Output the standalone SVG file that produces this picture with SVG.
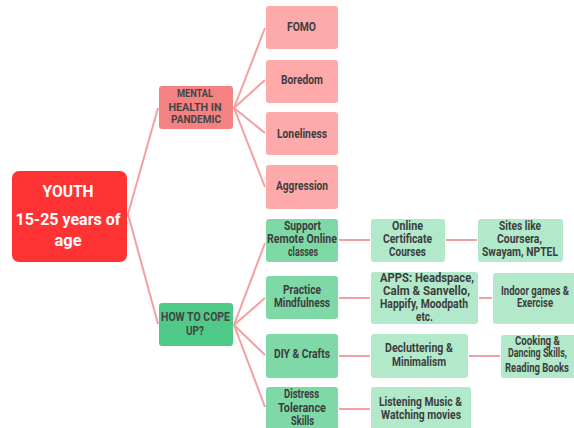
<svg xmlns="http://www.w3.org/2000/svg" width="574" height="428" viewBox="0 0 574 428">
<style>
.t{font-family:"Roboto","Liberation Sans",sans-serif;font-size:12px;fill:#3d3d3d;text-anchor:middle;font-weight:bold}
.y{font-family:"Roboto","Liberation Sans",sans-serif;font-size:17px;fill:#fff;text-anchor:middle;font-weight:bold}
.m{font-family:"Roboto","Liberation Sans",sans-serif;font-size:11.5px;fill:#444;text-anchor:middle;font-weight:bold}
.c{stroke:#f4a0a0;stroke-width:2;fill:none}
.p{fill:#ffaaaa}
.g2{fill:#7fd9a7}
.g3{fill:#b2e9ca}
</style>
<rect width="574" height="428" fill="#fff"/>
<g id="connectors">
<line class="c" x1="128" y1="214" x2="158" y2="108"/>
<line class="c" x1="128" y1="214" x2="158" y2="324"/>
<line class="c" x1="234" y1="108" x2="265" y2="28"/>
<line class="c" x1="234" y1="108" x2="265" y2="80"/>
<line class="c" x1="234" y1="108" x2="265" y2="133"/>
<line class="c" x1="234" y1="108" x2="265" y2="187"/>
<line class="c" x1="234" y1="325" x2="265" y2="243"/>
<line class="c" x1="234" y1="325" x2="265" y2="298"/>
<line class="c" x1="234" y1="325" x2="265" y2="355"/>
<line class="c" x1="234" y1="325" x2="265" y2="407"/>
<line class="c" x1="339" y1="240" x2="370" y2="240"/>
<line class="c" x1="446" y1="240" x2="477" y2="240"/>
<line class="c" x1="339" y1="298" x2="370" y2="298"/>
<line class="c" x1="479" y1="298" x2="492" y2="298"/>
<line class="c" x1="339" y1="356" x2="370" y2="356"/>
<line class="c" x1="469" y1="356" x2="500" y2="356"/>
<line class="c" x1="339" y1="409" x2="370" y2="409"/>
</g>
<g id="youth"><rect x="12" y="171" width="115" height="91" rx="7" fill="#ff3333"/>
<text class="y" x="68" y="197" textLength="51" lengthAdjust="spacingAndGlyphs">YOUTH</text>
<text class="y" x="68" y="225" textLength="105" lengthAdjust="spacingAndGlyphs">15-25 years of</text>
<text class="y" x="68" y="246" textLength="27" lengthAdjust="spacingAndGlyphs">age</text></g>
<g id="mental"><rect x="159" y="86" width="74" height="43" rx="3" fill="#f58282"/>
<text class="m" x="195" y="97" textLength="36" lengthAdjust="spacingAndGlyphs">MENTAL</text>
<text class="m" x="195" y="111" textLength="53" lengthAdjust="spacingAndGlyphs">HEALTH IN</text>
<text class="m" x="196" y="123" textLength="50" lengthAdjust="spacingAndGlyphs">PANDEMIC</text></g>
<g id="fomo"><rect class="p" x="266" y="6" width="72" height="43" rx="3"/><text class="t" x="301.5" y="31" textLength="29" lengthAdjust="spacingAndGlyphs">FOMO</text></g>
<g id="boredom"><rect class="p" x="266" y="60" width="72" height="43" rx="3"/><text class="t" x="302" y="84" textLength="42" lengthAdjust="spacingAndGlyphs">Boredom</text></g>
<g id="loneliness"><rect class="p" x="266" y="112" width="72" height="43" rx="3"/><text class="t" x="302" y="138" textLength="50" lengthAdjust="spacingAndGlyphs">Loneliness</text></g>
<g id="aggression"><rect class="p" x="266" y="165" width="72" height="44" rx="3"/><text class="t" x="302" y="190" textLength="52" lengthAdjust="spacingAndGlyphs">Aggression</text></g>
<g id="cope"><rect x="159" y="303" width="74" height="43" rx="3" fill="#4ec987"/>
<text class="m" x="195.5" y="321" textLength="69" lengthAdjust="spacingAndGlyphs" style="font-size:12px">HOW TO COPE</text>
<text class="m" x="195" y="335" textLength="18" lengthAdjust="spacingAndGlyphs" style="font-size:12px">UP?</text></g>
<g id="support"><rect class="g2" x="266" y="219" width="72" height="43" rx="3"/>
<text class="t" x="302.5" y="230" textLength="37" lengthAdjust="spacingAndGlyphs">Support</text>
<text class="t" x="302" y="243" textLength="70" lengthAdjust="spacingAndGlyphs">Remote Online</text>
<text class="t" x="303" y="256" textLength="30" lengthAdjust="spacingAndGlyphs">classes</text></g>
<g id="practice"><rect class="g2" x="266" y="276" width="72" height="43" rx="3"/>
<text class="t" x="302" y="294" textLength="38" lengthAdjust="spacingAndGlyphs">Practice</text>
<text class="t" x="302" y="307" textLength="56" lengthAdjust="spacingAndGlyphs">Mindfulness</text></g>
<g id="diy"><rect class="g2" x="266" y="334" width="72" height="44" rx="3"/>
<text class="t" x="302" y="358" textLength="56" lengthAdjust="spacingAndGlyphs">DIY &amp; Crafts</text></g>
<g id="distress"><rect class="g2" x="266" y="387" width="72" height="45" rx="3"/>
<text class="t" x="301.5" y="398" textLength="35" lengthAdjust="spacingAndGlyphs">Distress</text>
<text class="t" x="302" y="412" textLength="48" lengthAdjust="spacingAndGlyphs">Tolerance</text>
<text class="t" x="302.5" y="425" textLength="23" lengthAdjust="spacingAndGlyphs">Skills</text></g>
<g id="online"><rect class="g3" x="371" y="219" width="74" height="43" rx="3"/>
<text class="t" x="407.5" y="230" textLength="31" lengthAdjust="spacingAndGlyphs">Online</text>
<text class="t" x="407.5" y="243" textLength="49" lengthAdjust="spacingAndGlyphs">Certificate</text>
<text class="t" x="407.5" y="256" textLength="37" lengthAdjust="spacingAndGlyphs">Courses</text></g>
<g id="sites"><rect class="g3" x="478" y="219" width="85" height="43" rx="3"/>
<text class="t" x="520" y="230" textLength="42" lengthAdjust="spacingAndGlyphs">Sites like</text>
<text class="t" x="519.5" y="243" textLength="45" lengthAdjust="spacingAndGlyphs">Coursera,</text>
<text class="t" x="520" y="256" textLength="76" lengthAdjust="spacingAndGlyphs">Swayam, NPTEL</text></g>
<g id="apps"><rect class="g3" x="371" y="272" width="107" height="52" rx="3"/>
<text class="t" x="427" y="282" textLength="94" lengthAdjust="spacingAndGlyphs">APPS: Headspace,</text>
<text class="t" x="426.5" y="295" textLength="87" lengthAdjust="spacingAndGlyphs">Calm &amp; Sanvello,</text>
<text class="t" x="424" y="308" textLength="88" lengthAdjust="spacingAndGlyphs">Happify, Moodpath</text>
<text class="t" x="424.5" y="321" textLength="17" lengthAdjust="spacingAndGlyphs">etc.</text></g>
<g id="indoor"><rect class="g3" x="493" y="273" width="85" height="51" rx="3"/>
<text class="t" x="535" y="295" textLength="68" lengthAdjust="spacingAndGlyphs">Indoor games &amp;</text>
<text class="t" x="535" y="307" textLength="36" lengthAdjust="spacingAndGlyphs">Exercise</text></g>
<g id="declutter"><rect class="g3" x="371" y="334" width="97" height="44" rx="3"/>
<text class="t" x="419" y="352" textLength="68" lengthAdjust="spacingAndGlyphs">Decluttering &amp;</text>
<text class="t" x="419" y="366" textLength="54" lengthAdjust="spacingAndGlyphs">Minimalism</text></g>
<g id="cooking"><rect class="g3" x="501" y="335" width="78" height="43" rx="3"/>
<text class="t" x="537.5" y="345" textLength="45" lengthAdjust="spacingAndGlyphs">Cooking &amp;</text>
<text class="t" x="537.5" y="357" textLength="59" lengthAdjust="spacingAndGlyphs">Dancing Skills,</text>
<text class="t" x="537" y="372" textLength="64" lengthAdjust="spacingAndGlyphs">Reading Books</text></g>
<g id="listening"><rect class="g3" x="371" y="387" width="100" height="45" rx="3"/>
<text class="t" x="420.5" y="406" textLength="83" lengthAdjust="spacingAndGlyphs">Listening Music &amp;</text>
<text class="t" x="421" y="419" textLength="80" lengthAdjust="spacingAndGlyphs">Watching movies</text></g>
</svg>
